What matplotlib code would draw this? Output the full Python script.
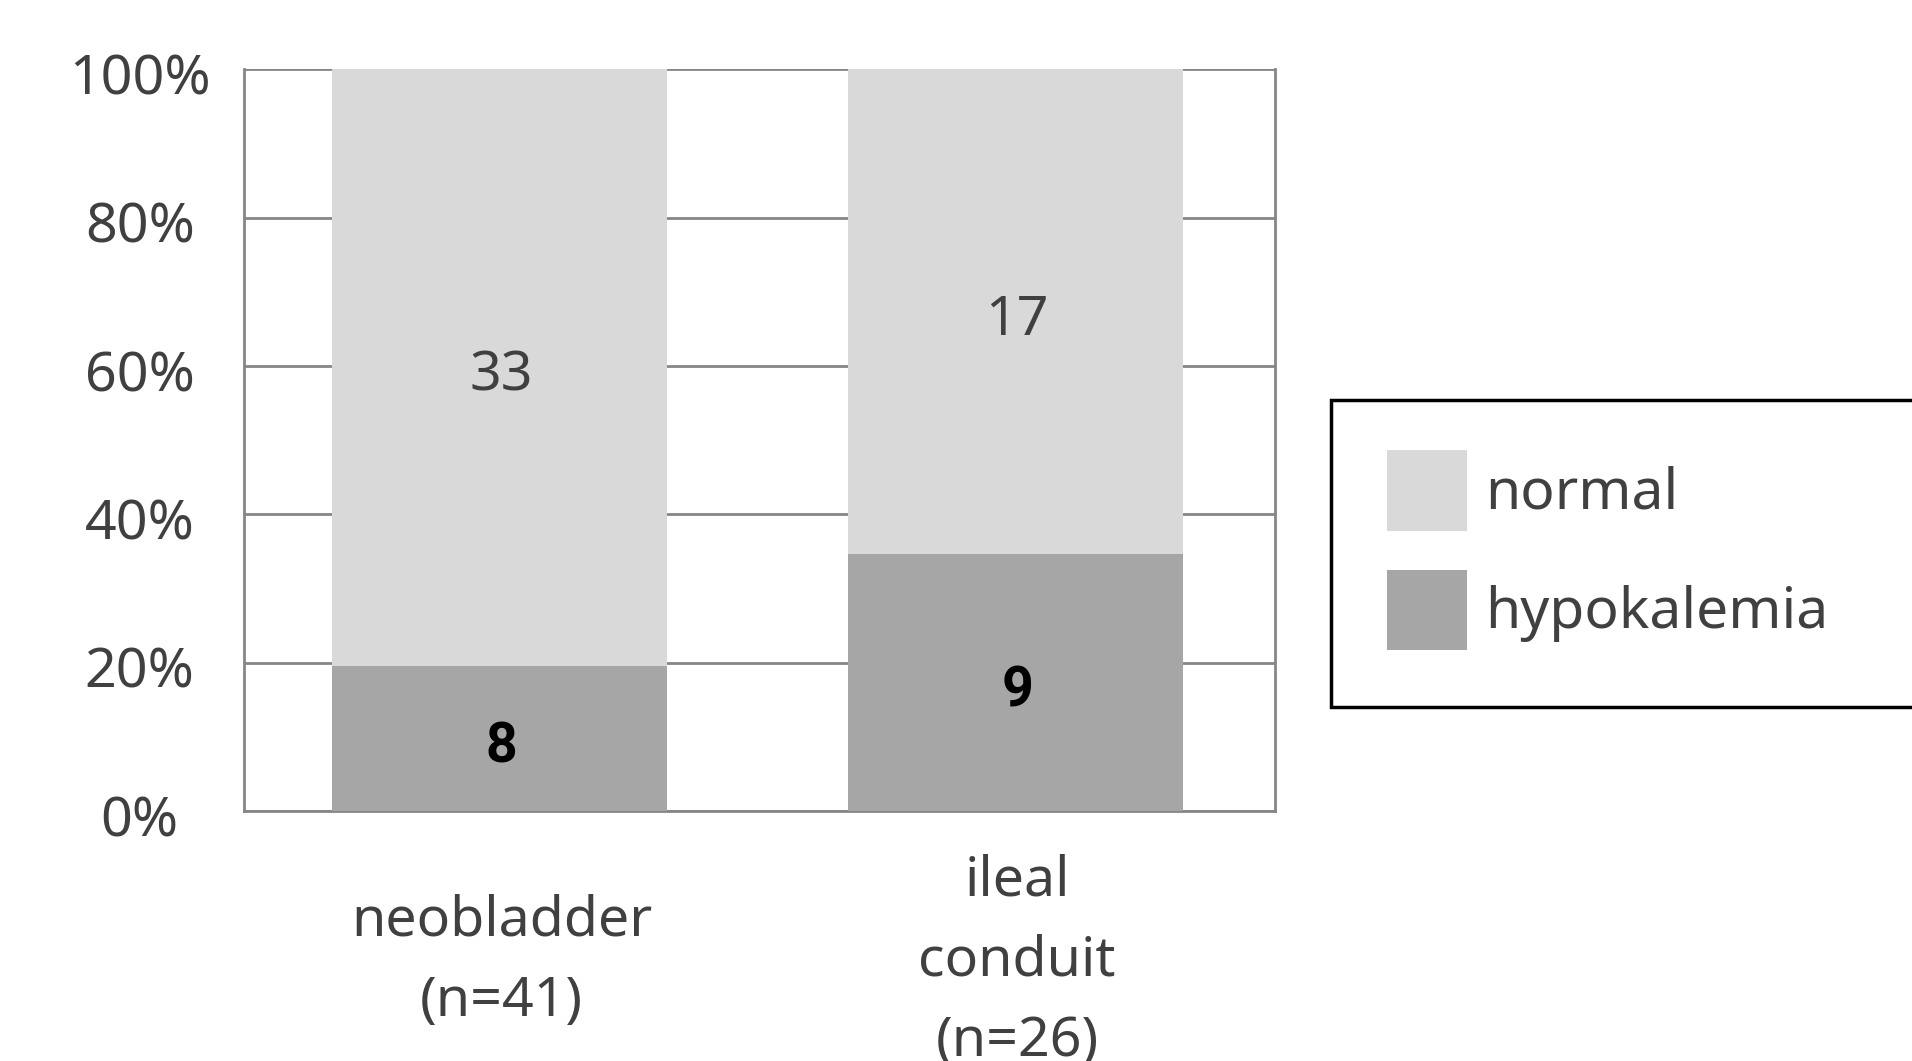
import numpy as np
import matplotlib.pyplot as plt
from matplotlib.ticker import FixedLocator
from matplotlib.transforms import ScaledTranslation
from matplotlib.patches import Rectangle

groups = ["neobladder\n(n=41)", "ileal\nconduit\n(n=26)"]
hypokalemia = np.array([8, 9])
normal = np.array([33, 17])
yticks = [0, 20, 40, 60, 80, 100]

light = "#d9d9d9"
dark = "#a6a6a6"
grid_col = "#868686"
txt_col = "#404040"
fs = 40

plt.rcParams["font.family"] = ["Noto Sans", "DejaVu Sans"]

total = hypokalemia + normal
pct_hypo = hypokalemia / total * 100
pct_norm = normal / total * 100

W, H = 1912, 1061
fig = plt.figure(figsize=(W / 100, H / 100), dpi=100)
ax = fig.add_axes([0.1276, 0.2356, 0.5392, 0.6989])

x = np.arange(len(groups))
w = 0.65
b1 = ax.bar(x - 0.004, pct_hypo, w, color=dark, label="hypokalemia", zorder=3)
b2 = ax.bar(x - 0.004, pct_norm, w, bottom=pct_hypo, color=light, label="normal", zorder=3)

# counts in the middle of each segment, nudged down a bit
for i in range(len(groups)):
    ax.annotate(str(hypokalemia[i]), (x[i], pct_hypo[i] / 2), xytext=(0, -6),
                textcoords="offset points", ha="center", va="center",
                fontsize=fs, color="black", fontweight="bold",
                family=["Roboto", "DejaVu Sans"], zorder=4)
    ax.annotate(str(normal[i]), (x[i], pct_hypo[i] + pct_norm[i] / 2), xytext=(0, -6),
                textcoords="offset points", ha="center", va="center",
                fontsize=fs, color=txt_col, zorder=4)

ax.set_xlim(-0.5, 1.5)
ax.set_ylim(0, 100)
ax.yaxis.set_major_locator(FixedLocator(yticks))
ax.set_yticklabels([f"{v}%" for v in yticks], fontsize=fs, color=txt_col, ha="center")
ax.tick_params(axis="y", length=0, pad=75)
shift = ScaledTranslation(0, -4 / 100, fig.dpi_scale_trans)
for lab in ax.get_yticklabels():
    lab.set_transform(lab.get_transform() + shift)
ax.set_xticks(x)
ax.set_xticklabels(groups, fontsize=fs, color=txt_col, va="center", linespacing=1.6)
ax.tick_params(axis="x", length=0, pad=108)

ax.yaxis.grid(True, color=grid_col, linewidth=2, zorder=0)
ax.set_axisbelow(True)
for s in ["left", "right", "bottom"]:
    ax.spines[s].set_color(grid_col)
    ax.spines[s].set_linewidth(2)
ax.spines["top"].set_visible(False)

# legend frame runs off the right edge of the figure
fig.add_artist(Rectangle((1331 / W, 1 - 707 / H), 0.5, 307 / H, transform=fig.transFigure,
                         facecolor="white", edgecolor="black", linewidth=2.5, zorder=1))
F = fs * 100 / 72
leg = fig.legend(handles=[b2, b1], labels=["normal", "hypokalemia"],
                 loc="upper left", bbox_to_anchor=(1387 / W, 1 - 450 / H),
                 fontsize=41, frameon=False,
                 handlelength=78 / F, handleheight=1.80, handletextpad=18 / F,
                 labelspacing=38 / F, borderpad=0, borderaxespad=0)
leg.set_zorder(2)
for t in leg.get_texts():
    t.set_color(txt_col)

fig.savefig("out.png", dpi=100)
